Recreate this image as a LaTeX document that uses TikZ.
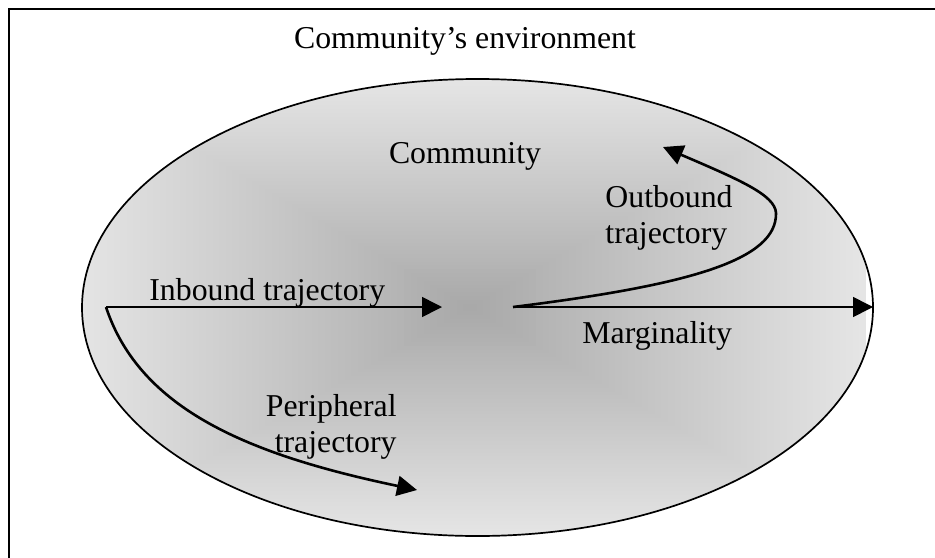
\documentclass[tikz,border=0pt]{standalone}
\usepackage{fontspec}
\setmainfont{Liberation Serif}
\usepackage{tikz}
\usetikzlibrary{
    arrows.meta,
    positioning
}

\begin{document}
\begin{tikzpicture}[x=0.5pt, y=-0.5pt,
        lbl/.style={inner sep=0pt, font=\fontsize{15.9}{18}\selectfont},
        thinarrow/.style={line width=0.8pt, -{Triangle[length=10pt, width=10pt]}},
        thickarrow/.style={line width=1.3pt, -{Triangle[length=10pt, width=10pt]}}]
                        \useasboundingbox (0, 0) rectangle (935, 557);
                        \draw[line width=1pt] (9, 9) rectangle (960, 580);

                        % shaded community, darker towards the middle
                        \begin{scope}
                        \clip (477.5, 307.5) ellipse [x radius=395.5, y radius=228.5];
                        \foreach \i in {60,...,1} {
                            \pgfmathsetmacro\tone{34-24*\i/60}
                            \fill[black!\tone] (470-\i*6.6, 307.5-\i*3.82) rectangle (470+\i*6.6, 307.5+\i*3.82);
                        }
                        \end{scope}
                        \draw[line width=0.85pt] (477.5, 307.5) ellipse [x radius=395.5, y radius=228.5];

                        \node[lbl, anchor=base] (env) at (465, 48) {Community's environment};
                        \node[lbl, anchor=base] (comm) at (465, 163) {Community};
                        \node[lbl, anchor=base west] (inbound) at (149, 300) {Inbound trajectory};
                        \node[lbl, anchor=base west, align=left] (outbound) at (605, 243) {Outbound\\trajectory};
                        \node[lbl, anchor=base west] (marg) at (582, 343) {Marginality};
                        \node[lbl, anchor=base east, align=right] (peri) at (397, 452) {Peripheral\\trajectory};

                        \coordinate (entry) at (106, 307);
                        \coordinate (coreIn) at (442, 307);
                        \coordinate (coreOut) at (513, 307);
                        \coordinate (rim) at (873, 307);
                        \coordinate (outTip) at (663, 147);
                        \coordinate (periTip) at (417, 490);

                        \draw[thinarrow] (entry) -- (coreIn);
                        \draw[thinarrow] (coreOut) -- (rim);
                        \draw[thickarrow] (coreOut) .. controls (690, 285) and (777, 260) .. (776, 213)
                            .. controls (775, 195) and (740, 180) .. (outTip);
                        \draw[thickarrow] (entry) .. controls (140, 410) and (250, 455) .. (periTip);
                    \end{tikzpicture}
\end{document}
